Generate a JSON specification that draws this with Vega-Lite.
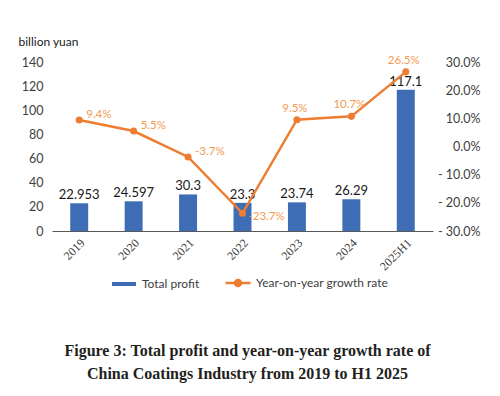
{
  "$schema": "https://vega.github.io/schema/vega-lite/v6.json",
  "width": 381,
  "height": 169,
  "autosize": {"type": "none"},
  "padding": {"left": 52, "top": 62, "right": 67, "bottom": 165},
  "background": "white",
  "title": {
    "text": ["Figure 3: Total profit and year-on-year growth rate of", "China Coatings Industry from 2019 to H1 2025"],
    "orient": "bottom",
    "anchor": "middle",
    "font": "Liberation Serif",
    "fontSize": 16,
    "fontWeight": "bold",
    "color": "#231F20",
    "lineHeight": 23,
    "offset": 52,
    "dx": 5
  },
  "data": {
    "values": [
      {"year": "2019", "profit": 22.953, "growth": 0.094, "growthLabel": "9.4%", "pos": "right"},
      {"year": "2020", "profit": 24.597, "growth": 0.055, "growthLabel": "5.5%", "pos": "right"},
      {"year": "2021", "profit": 30.3, "growth": -0.037, "growthLabel": "-3.7%", "pos": "right"},
      {"year": "2022", "profit": 23.3, "growth": -0.237, "growthLabel": "-23.7%", "pos": "below"},
      {"year": "2023", "profit": 23.74, "growth": 0.095, "growthLabel": "9.5%", "pos": "above"},
      {"year": "2024", "profit": 26.29, "growth": 0.107, "growthLabel": "10.7%", "pos": "above"},
      {"year": "2025H1", "profit": 117.1, "growth": 0.265, "growthLabel": "26.5%", "pos": "above"}
    ]
  },
  "encoding": {
    "x": {
      "field": "year",
      "type": "nominal",
      "sort": null,
      "scale": {"paddingInner": 0.67, "paddingOuter": 0.335},
      "axis": {
        "title": null,
        "labelAngle": -45,
        "labelFont": "Liberation Serif",
        "labelFontSize": 12,
        "labelColor": "#404040",
        "labelPadding": 6,
        "ticks": false,
        "domainColor": "#595959",
        "domainWidth": 1
      }
    }
  },
  "layer": [
    {
      "encoding": {
        "y": {
          "field": "profit",
          "type": "quantitative",
          "scale": {"domain": [0, 140]},
          "axis": {
            "title": "billion yuan",
            "titleAngle": 0,
            "titleAlign": "left",
            "titleBaseline": "middle",
            "titleX": -34,
            "titleY": -21,
            "titleFont": "Lato",
            "titleFontSize": 12,
            "titleFontWeight": "normal",
            "titleColor": "#222222",
            "values": [0, 20, 40, 60, 80, 100, 120, 140],
            "labelFont": "Lato",
            "labelFontSize": 12.5,
            "labelColor": "#404040",
            "labelPadding": 9,
            "ticks": false,
            "domain": false,
            "grid": false
          }
        }
      },
      "layer": [
        {
          "mark": {"type": "bar", "color": "#3E6DB5"},
          "encoding": {
            "color": {
              "datum": "Total profit",
              "type": "nominal",
              "scale": {"domain": ["Total profit", "Year-on-year growth rate"], "range": ["#3E6DB5", "#ED7D31"]},
              "legend": {
                "title": null,
                "orient": "none",
                "direction": "horizontal",
                "legendX": 66,
                "legendY": 215,
                "labelFont": "Lato",
                "labelFontSize": 12,
                "labelColor": "#404040",
                "symbolSize": 400,
                "columnPadding": 20,
                "labelOffset": 12,
                "encode": {
                  "symbols": {
                    "update": {
                      "shape": {"signal": "datum.value == 'Total profit' ? 'M-1.2,-0.2H1.2V0.2H-1.2Z' : 'M-1.25,0H1.25M0.3,0A0.3,0.3,0,1,1,-0.3,0A0.3,0.3,0,1,1,0.3,0Z'"},
                      "fill": {"signal": "datum.value == 'Total profit' ? '#3E6DB5' : '#ED7D31'"},
                      "stroke": {"signal": "datum.value == 'Total profit' ? '#3E6DB5' : '#ED7D31'"},
                      "strokeWidth": {"signal": "datum.value == 'Total profit' ? 0 : 2.5"},
                      "opacity": {"value": 1},
                      "fillOpacity": {"value": 1}
                    }
                  }
                }
              }
            }
          }
        },
        {
          "mark": {"type": "text", "baseline": "alphabetic", "dy": -4, "font": "Lato", "fontSize": 13, "color": "#1a1a1a"},
          "encoding": {"text": {"field": "profit", "type": "quantitative"}}
        }
      ]
    },
    {
      "encoding": {
        "y": {
          "field": "growth",
          "type": "quantitative",
          "scale": {"domain": [-0.3, 0.3]},
          "axis": {
            "orient": "right",
            "title": null,
            "values": [-0.3, -0.2, -0.1, 0, 0.1, 0.2, 0.3],
            "labelExpr": "datum.value < -0.001 ? '- ' + format(-datum.value, '.1%') : format(abs(datum.value), '.1%')",
            "labelFont": "Lato",
            "labelFontSize": 12.5,
            "labelColor": "#404040",
            "labelAlign": "right",
            "labelPadding": 47,
            "ticks": false,
            "domain": false,
            "grid": false
          }
        }
      },
      "layer": [
        {
          "mark": {"type": "line", "strokeWidth": 2.5, "color": "#ED7D31"},
          "encoding": {"color": {"datum": "Year-on-year growth rate", "type": "nominal"}}
        },
        {
          "mark": {"type": "point", "filled": true, "size": 50, "opacity": 1, "color": "#ED7D31"}
        },
        {
          "transform": [{"filter": "datum.pos == 'right'"}],
          "mark": {"type": "text", "align": "left", "dx": 7, "dy": -5, "font": "Lato", "fontSize": 11.5, "color": "#F39A50"},
          "encoding": {"text": {"field": "growthLabel"}}
        },
        {
          "transform": [{"filter": "datum.pos == 'below'"}],
          "mark": {"type": "text", "align": "left", "dx": 6, "dy": 4, "font": "Lato", "fontSize": 11.5, "color": "#F39A50"},
          "encoding": {"text": {"field": "growthLabel"}}
        },
        {
          "transform": [{"filter": "datum.pos == 'above'"}],
          "mark": {"type": "text", "align": "center", "baseline": "bottom", "dx": -2, "dy": -6, "font": "Lato", "fontSize": 11.5, "color": "#F39A50"},
          "encoding": {"text": {"field": "growthLabel"}}
        }
      ]
    }
  ],
  "resolve": {"scale": {"y": "independent", "color": "shared"}},
  "config": {"view": {"stroke": null}}
}
